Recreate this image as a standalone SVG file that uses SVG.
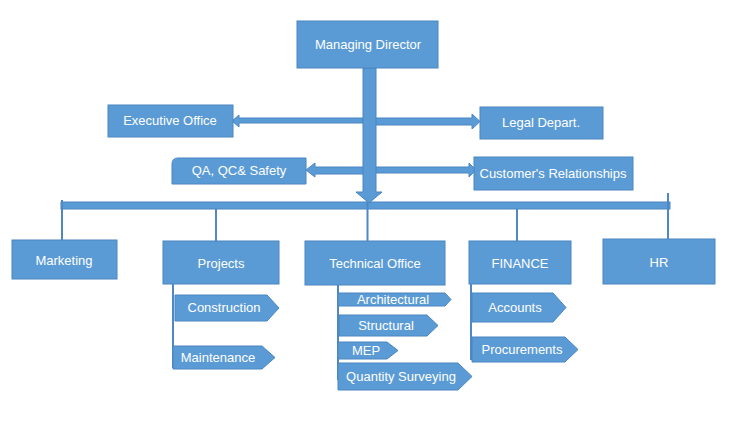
<svg xmlns="http://www.w3.org/2000/svg" width="729" height="437" viewBox="0 0 729 437">
<style>
.box{fill:#5B9BD5;stroke:#4A86C2;stroke-width:1}
.t{font-family:"Liberation Sans",Arial,sans-serif;font-size:13px;fill:#FFFFFF;text-anchor:middle}
.ln{stroke:#4F88C4;stroke-width:2;fill:none}
.bar{fill:#5B9BD5;stroke:#4A86C2;stroke-width:1}
</style>
<rect width="729" height="437" fill="#FFFFFF"/>
<g id="connectors">
<polygon class="bar" points="363,118 239,118 239,115 232,121 239,127 239,123 363,123"/>
<polygon class="bar" points="372,118 472,118 472,114 480,121.5 472,129 472,125 372,125"/>
<polygon class="bar" points="366,167 315,167 315,163 306,170 315,177 315,174 366,174"/>
<polygon class="bar" points="374,167 469,167 469,163 476,170 469,177 469,173 374,173"/>
<rect class="bar" x="61" y="202" width="609" height="7"/>
<line class="ln" x1="62" y1="200" x2="62" y2="240"/>
<line class="ln" x1="216" y1="209" x2="216" y2="241"/>
<line class="ln" x1="367.5" y1="193" x2="367.5" y2="241"/>
<line class="ln" x1="517" y1="209" x2="517" y2="241"/>
<line class="ln" x1="668" y1="193" x2="668" y2="239"/>
<polygon class="bar" points="363,68 376,68 376,192 382,192 369,203 356,192 363,192"/>
<line class="ln" x1="173" y1="284" x2="173" y2="368"/>
<line class="ln" x1="338" y1="285" x2="338" y2="380"/>
<line class="ln" x1="471" y1="258" x2="471" y2="360"/>
</g>
<g id="managing-director"><rect class="box" x="297" y="21" width="141" height="47"/><text class="t" x="368" y="49">Managing Director</text></g>
<g id="executive-office"><rect class="box" x="108" y="105" width="125" height="32"/><text class="t" x="170" y="125">Executive Office</text></g>
<g id="legal-depart"><rect class="box" x="480" y="107" width="123" height="32"/><text class="t" x="541" y="127">Legal Depart.</text></g>
<g id="qa-qc-safety"><path class="box" d="M178,158 H306 V184 H172 V164 Q172,158 178,158 Z"/><text class="t" x="239" y="175">QA, QC&amp; Safety</text></g>
<g id="customers-relationships"><rect class="box" x="474" y="157" width="159" height="33"/><text class="t" x="553" y="178">Customer's Relationships</text></g>
<g id="marketing"><rect class="box" x="12" y="240" width="105" height="39"/><text class="t" x="64" y="265">Marketing</text></g>
<g id="projects"><rect class="box" x="163" y="241" width="116" height="43"/><text class="t" x="221" y="268">Projects</text></g>
<g id="technical-office"><rect class="box" x="305" y="241" width="140" height="44"/><text class="t" x="375" y="268">Technical Office</text></g>
<g id="finance"><rect class="box" x="469" y="241" width="102" height="43"/><text class="t" x="520" y="268">FINANCE</text></g>
<g id="hr"><rect class="box" x="603" y="239" width="112" height="45"/><text class="t" x="659" y="267">HR</text></g>
<g id="construction"><polygon class="box" points="175,295 267,295 279,308 267,321 175,321"/><text class="t" x="224" y="312">Construction</text></g>
<g id="maintenance"><polygon class="box" points="173,346 262,346 275,357.5 262,369 173,369"/><text class="t" x="218" y="362">Maintenance</text></g>
<g id="architectural"><polygon class="box" points="338,293 445,293 451,299.5 445,306 338,306"/><text class="t" x="393" y="304">Architectural</text></g>
<g id="structural"><polygon class="box" points="339,315 427,315 438,325.5 427,336 339,336"/><text class="t" x="386" y="330">Structural</text></g>
<g id="mep"><polygon class="box" points="338,342 387,342 398,350.5 387,359 338,359"/><text class="t" x="366" y="355">MEP</text></g>
<g id="quantity-surveying"><polygon class="box" points="338,363 458,363 472,376.5 458,390 338,390"/><text class="t" x="401" y="381">Quantity Surveying</text></g>
<g id="accounts"><polygon class="box" points="472,293 553,293 566,307.5 553,322 472,322"/><text class="t" x="515" y="312">Accounts</text></g>
<g id="procurements"><polygon class="box" points="472,337 565,337 578,349.5 565,362 472,362"/><text class="t" x="522" y="354">Procurements</text></g>
</svg>
